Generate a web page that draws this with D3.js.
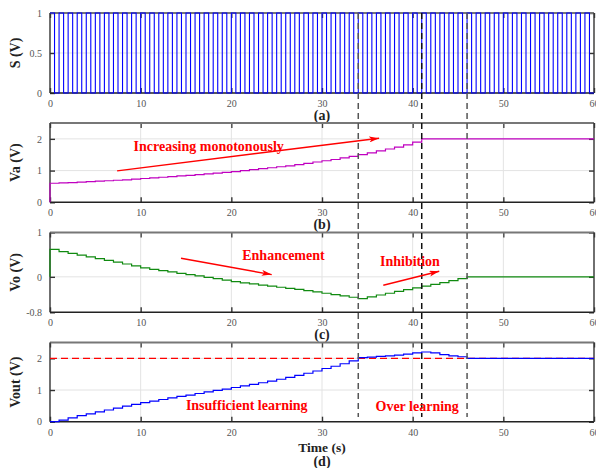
<!DOCTYPE html>
<html>
<head>
<meta charset="utf-8">
<script src="https://cdn.jsdelivr.net/npm/d3@7"></script>
<style>
  html, body { margin: 0; padding: 0; background: #fff; }
  svg { display: block; }
</style>
</head>
<body>
<div id="chart"></div>
<script>
// ---- data ----
// rising edges of the learning pulse train (s), each pulse lasts 0.5 s
const pulseStarts = [0,1,2,3,4,5,6,7,8,9,10,11,12,13,14,15,16,17,18,19,
  20,21,22,23,24,25,26,27,28,29,30,31,32,33,34,35,36,37,38,39,
  40,41,42,43,44,45,46,47,48,49,50,51,52,53,54,55,56,57,58,59];
const pulseWidth = 0.5;

// Va held per 1 s step from t = 0 .. 41, constant afterwards
const vaSteps = [0.60,0.61,0.62,0.635,0.65,0.665,0.68,0.695,0.71,0.73,
  0.75,0.77,0.79,0.81,0.83,0.85,0.87,0.895,0.92,0.945,
  0.97,1.00,1.03,1.06,1.09,1.12,1.15,1.19,1.23,1.27,
  1.31,1.35,1.40,1.45,1.50,1.56,1.62,1.68,1.74,1.81,
  1.90,2.00];

// Vo held per 1 s step from t = 0 .. 46, constant afterwards
const voSteps = [0.62,0.57,0.53,0.49,0.45,0.41,0.37,0.33,0.29,0.245,
  0.20,0.17,0.14,0.11,0.08,0.05,0.02,-0.01,-0.04,-0.075,
  -0.11,-0.135,-0.16,-0.185,-0.21,-0.235,-0.26,-0.285,-0.31,-0.34,
  -0.37,-0.40,-0.43,-0.46,-0.49,-0.45,-0.41,-0.37,-0.33,-0.29,
  -0.25,-0.21,-0.17,-0.13,-0.085,-0.04,0.00];

// Vout held per 1 s step from t = 0 .. 46, constant afterwards
const voutSteps = [0.00,0.05,0.12,0.19,0.25,0.31,0.37,0.43,0.49,0.55,
  0.60,0.65,0.70,0.75,0.80,0.84,0.89,0.94,0.99,1.03,
  1.08,1.13,1.18,1.23,1.28,1.34,1.40,1.46,1.53,1.60,
  1.68,1.75,1.83,1.92,2.02,2.04,2.06,2.08,2.10,2.13,
  2.17,2.20,2.17,2.12,2.08,2.05,2.00];

const voutTarget = 2;
const phaseMarks = [34, 41, 46];

const xTicks = [0, 10, 20, 30, 40, 50, 60];
const panelTicks = {
  a: [0, 0.5, 1],
  b: [0, 1, 2],
  c: [-0.8, 0, 1],
  d: [0, 1, 2]
};
const panelTickLabels = {
  a: ["0", "0.5", "1"],
  b: ["0", "1", "2"],
  c: ["-0.8", "0", "1"],
  d: ["0", "1", "2"]
};

// ---- layout ----
const W = 596, H = 468;
const left = 50, right = 594;
const FONT = "'Liberation Serif','Times New Roman',serif";

const svg = d3.select("#chart").append("svg")
  .attr("width", W).attr("height", H)
  .style("font-family", FONT);

svg.append("rect").attr("width", W).attr("height", H).attr("fill", "#fff");

const defs = svg.append("defs");
defs.append("marker")
  .attr("id", "redHead")
  .attr("viewBox", "0 0 10 6")
  .attr("refX", 10).attr("refY", 3)
  .attr("markerWidth", 10).attr("markerHeight", 6)
  .attr("markerUnits", "userSpaceOnUse")
  .attr("orient", "auto")
  .append("path").attr("d", "M0,0 L10,3 L0,6 L2.5,3 Z").attr("fill", "#ff0000");

const x = d3.scaleLinear().domain([0, 60]).range([left, right]);

const panels = {
  a: { top: 13,    bottom: 93,    domain: [0, 1],     title: "S (V)",    tag: "(a)", tagDy: 27 },
  b: { top: 123,   bottom: 202.3, domain: [0, 2.5],   title: "Va (V)",   tag: "(b)", tagDy: 27 },
  c: { top: 232.5, bottom: 312.3, domain: [-0.8, 1],  title: "Vo (V)",   tag: "(c)", tagDy: 27 },
  d: { top: 342.5, bottom: 421.7, domain: [0, 2.5],   title: "Vout (V)", tag: "(d)", tagDy: 44.5 }
};

Object.keys(panels).forEach(k => {
  const p = panels[k];
  p.y = d3.scaleLinear().domain(p.domain).range([p.bottom, p.top]);
  p.g = svg.append("g");
  const g = p.g;
  const gridC = "#e3e3e3";
  // grid
  g.selectAll(".vg").data(xTicks.slice(1, -1)).join("line")
    .attr("x1", d => x(d)).attr("x2", d => x(d))
    .attr("y1", p.top).attr("y2", p.bottom)
    .attr("stroke", gridC).attr("stroke-width", 1);
  g.selectAll(".hg").data(panelTicks[k].filter(v => v > p.domain[0] && v < p.domain[1])).join("line")
    .attr("x1", left).attr("x2", right)
    .attr("y1", d => p.y(d)).attr("y2", d => p.y(d))
    .attr("stroke", gridC).attr("stroke-width", 1);

  // bottom axis with inward ticks
  const xAxis = d3.axisBottom(x).tickValues(xTicks).tickSize(-5).tickPadding(7)
    .tickFormat(d3.format("d"));
  const ax = g.append("g").attr("transform", `translate(0,${p.bottom})`).call(xAxis);
  ax.attr("font-family", null);
  ax.select(".domain").remove();
  ax.selectAll(".tick line").attr("stroke", "#333").attr("stroke-width", 1.4);
  ax.selectAll(".tick text").attr("fill", "#555").style("font-size", "10px")
    .style("font-family", FONT);

  // top inward ticks
  const axTop = g.append("g").attr("transform", `translate(0,${p.top})`)
    .call(d3.axisTop(x).tickValues(xTicks).tickSize(-5).tickFormat(""));
  axTop.select(".domain").remove();
  axTop.selectAll(".tick line").attr("stroke", "#444").attr("stroke-width", 1.4);

  // left axis with inward ticks
  const yAxis = d3.axisLeft(p.y).tickValues(panelTicks[k]).tickSize(-5).tickPadding(8)
    .tickFormat((d, i) => panelTickLabels[k][i]);
  const ay = g.append("g").attr("transform", `translate(${left},0)`).call(yAxis);
  ay.attr("font-family", null);
  ay.select(".domain").remove();
  ay.selectAll(".tick line").attr("stroke", "#333").attr("stroke-width", 1.4);
  ay.selectAll(".tick text").attr("fill", "#555").style("font-size", "10px")
    .style("font-family", FONT);

  // right inward ticks
  const ayR = g.append("g").attr("transform", `translate(${right},0)`)
    .call(d3.axisRight(p.y).tickValues(panelTicks[k]).tickSize(-5).tickFormat(""));
  ayR.select(".domain").remove();
  ayR.selectAll(".tick line").attr("stroke", "#333").attr("stroke-width", 1.4);

  // frame
  g.append("line").attr("x1", left).attr("x2", right).attr("y1", p.top).attr("y2", p.top)
    .attr("stroke", "#777").attr("stroke-width", 1.8);
  g.append("line").attr("x1", left).attr("x2", right).attr("y1", p.bottom).attr("y2", p.bottom)
    .attr("stroke", "#222").attr("stroke-width", 1.4);
  g.append("line").attr("x1", left).attr("x2", left).attr("y1", p.top).attr("y2", p.bottom)
    .attr("stroke", "#333").attr("stroke-width", 1.4);
  g.append("line").attr("x1", right).attr("x2", right).attr("y1", p.top).attr("y2", p.bottom)
    .attr("stroke", "#333").attr("stroke-width", 1.4);

  // y title
  g.append("text")
    .attr("transform", `translate(20,${(p.top + p.bottom) / 2}) rotate(-90)`)
    .attr("text-anchor", "middle")
    .attr("fill", "#222").style("font-weight", "bold").style("font-size", "14px")
    .text(p.title);

  // panel tag
  g.append("text").attr("x", 322).attr("y", p.bottom + p.tagDy)
    .attr("text-anchor", "middle").attr("fill", "#222")
    .style("font-weight", "bold").style("font-size", "14px")
    .text(p.tag);
});

// time label under the last panel
svg.append("text").attr("x", 322).attr("y", panels.d.bottom + 30)
  .attr("text-anchor", "middle").attr("fill", "#222")
  .style("font-weight", "bold").style("font-size", "13.5px")
  .text("Time (s)");

// ---- signals ----
const stepLine = (p) => d3.line()
  .x(d => x(d[0])).y(d => p.y(d[1]))
  .curve(d3.curveStepAfter);

// (a) pulse train
const sPts = [];
pulseStarts.forEach(t0 => {
  sPts.push([t0, 1]);
  sPts.push([t0 + pulseWidth, 0]);
});
sPts.push([60, 0]);
panels.a.g.append("path").datum(sPts)
  .attr("d", stepLine(panels.a))
  .attr("fill", "none").attr("stroke", "#0000ff").attr("stroke-width", 1.1);

// (b) Va
const vaPts = [[0, 0]].concat(vaSteps.map((v, i) => [i, v]));
vaPts.push([60, vaSteps[vaSteps.length - 1]]);
panels.b.g.append("path").datum(vaPts)
  .attr("d", stepLine(panels.b))
  .attr("fill", "none").attr("stroke", "#c000c0").attr("stroke-width", 1.2);

// (c) Vo
const voPts = [[0, 0]].concat(voSteps.map((v, i) => [i, v]));
voPts.push([60, voSteps[voSteps.length - 1]]);
panels.c.g.append("path").datum(voPts)
  .attr("d", stepLine(panels.c))
  .attr("fill", "none").attr("stroke", "#108a10").attr("stroke-width", 1.2);

// (d) target and Vout
panels.d.g.append("line")
  .attr("x1", x(0)).attr("x2", x(60))
  .attr("y1", panels.d.y(voutTarget)).attr("y2", panels.d.y(voutTarget))
  .attr("stroke", "#ff0000").attr("stroke-width", 1.3).attr("stroke-dasharray", "7,4");
const voutPts = voutSteps.map((v, i) => [i, v]);
voutPts.push([60, voutSteps[voutSteps.length - 1]]);
panels.d.g.append("path").datum(voutPts)
  .attr("d", stepLine(panels.d))
  .attr("fill", "none").attr("stroke", "#0000ff").attr("stroke-width", 1.2);

// ---- phase separators ----
svg.selectAll(".phase").data(phaseMarks).join("line")
  .attr("x1", d => x(d)).attr("x2", d => x(d))
  .attr("y1", panels.a.top).attr("y2", 417)
  .attr("stroke", (d, i) => i === 1 ? "#111" : "#555")
  .attr("stroke-width", 1.5).attr("stroke-dasharray", "6,4");

// ---- annotations ----
function arrow(p, t1, v1, t2, v2) {
  svg.append("line")
    .attr("x1", x(t1)).attr("y1", p.y(v1))
    .attr("x2", x(t2)).attr("y2", p.y(v2))
    .attr("stroke", "#ff0000").attr("stroke-width", 1.4)
    .attr("marker-end", "url(#redHead)");
}
function note(p, t, v, txt) {
  svg.append("text").attr("x", x(t)).attr("y", p.y(v))
    .attr("text-anchor", "middle").attr("fill", "#ff0000")
    .style("font-weight", "bold").style("font-size", "14px")
    .text(txt);
}
arrow(panels.b, 7.4, 0.99, 36.3, 2.02);
note(panels.b, 17.5, 1.63, "Increasing monotonously");
arrow(panels.c, 14.45, 0.42, 24.45, 0.05);
note(panels.c, 25.75, 0.37, "Enhancement");
arrow(panels.c, 36.76, -0.19, 42.93, 0.126);
note(panels.c, 39.7, 0.25, "Inhibition");
note(panels.d, 21.7, 0.37, "Insufficient learning");
note(panels.d, 40.5, 0.34, "Over learning");
</script>
</body>
</html>
